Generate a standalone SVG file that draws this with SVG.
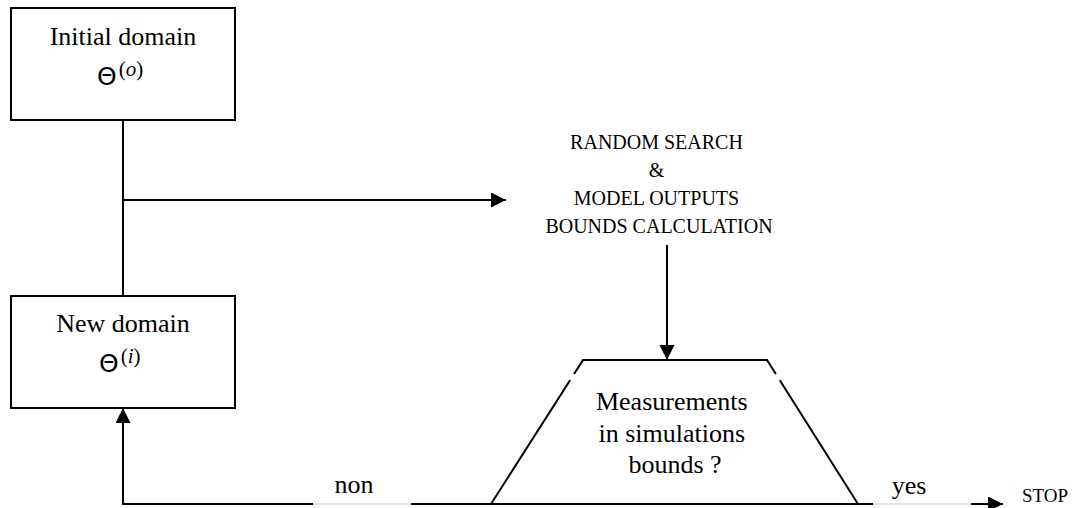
<svg xmlns="http://www.w3.org/2000/svg" width="1080" height="508" viewBox="0 0 1080 508">
<style>
.box{fill:#fff;stroke:#000;stroke-width:2}
.ln{fill:none;stroke:#000;stroke-width:2}
.gap{fill:none;stroke:#c8c8c8;stroke-width:1}
.t{font-family:"Liberation Serif","Times New Roman",serif;fill:#000}
.big{font-size:26px}
.sm{font-size:20px}
.th{font-family:"DejaVu Sans",sans-serif;font-size:25px;fill:#000}
.sup{font-family:"Liberation Serif",serif;font-size:21px;fill:#000}
</style>
<defs>
<marker id="ah" markerUnits="userSpaceOnUse" markerWidth="16" markerHeight="16" refX="15" refY="7.5" orient="auto">
<path d="M0,0 L15,7.5 L0,15 z" fill="#000"/>
</marker>
</defs>
<rect width="1080" height="508" fill="#fff"/>
<g id="connectors">
<path class="ln" d="M123,120 V296"/>
<path class="ln" d="M123,200 H506" marker-end="url(#ah)"/>
<path class="ln" d="M667,245 V360" marker-end="url(#ah)"/>
<path class="ln" d="M313,504 H123 V408" marker-end="url(#ah)"/>
<path class="gap" d="M313,504 H411"/>
<path class="ln" d="M411,504 H873"/>
<path class="gap" d="M873,504 H971"/>
<path class="ln" d="M971,504 H1003" marker-end="url(#ah)"/>
</g>
<g id="initial-domain">
<rect class="box" x="11" y="8" width="224" height="112"/>
<text class="t big" x="123" y="45" text-anchor="middle">Initial domain</text>
<text x="97" y="85"><tspan class="th">Θ</tspan><tspan class="sup" dx="2" dy="-9">(<tspan font-style="italic">o</tspan>)</tspan></text>
</g>
<g id="new-domain">
<rect class="box" x="11" y="296" width="224" height="112"/>
<text class="t big" x="123" y="332" text-anchor="middle">New domain</text>
<text x="99" y="372"><tspan class="th">Θ</tspan><tspan class="sup" dx="2" dy="-9">(<tspan font-style="italic">i</tspan>)</tspan></text>
</g>
<g id="random-search">
<text class="t sm" text-anchor="middle">
<tspan x="659" y="149">RANDOM SEARCH</tspan>
<tspan x="659" y="177">&amp;</tspan>
<tspan x="659" y="205">MODEL OUTPUTS</tspan>
<tspan x="659" y="233">BOUNDS CALCULATION</tspan>
</text>
</g>
<g id="decision">
<path class="ln" d="M491,504 L583,360 H767 L858,504"/>
<path d="M574,374 L570,380 M776,374 L780,380" stroke="#fff" stroke-width="4"/>
<text class="t big" text-anchor="middle">
<tspan x="675" y="410">Measurements</tspan>
<tspan x="675" y="442">in simulations</tspan>
<tspan x="675" y="473">bounds ?</tspan>
</text>
</g>
<g id="labels">
<text class="t big" x="354" y="493" text-anchor="middle">non</text>
<text class="t big" x="909" y="494" text-anchor="middle">yes</text>
<text class="t" font-size="19" x="1022" y="502">STOP</text>
</g>
</svg>
